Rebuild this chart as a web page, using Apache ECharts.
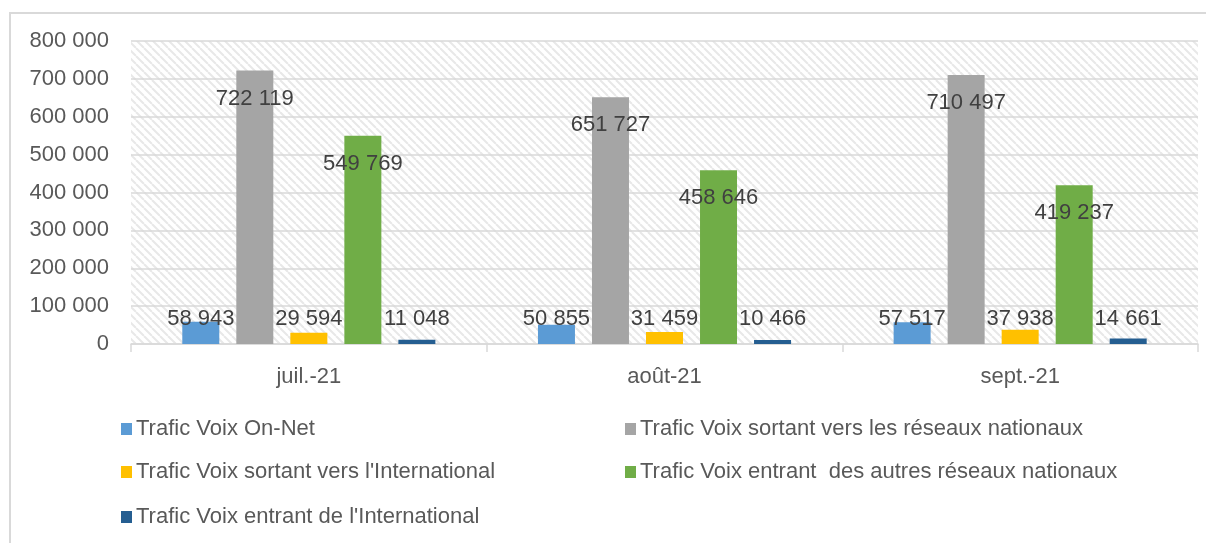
<!DOCTYPE html>
<html>
<head>
<meta charset="utf-8">
<script src="https://cdn.jsdelivr.net/npm/echarts@6/dist/echarts.min.js"></script>
<style>
    html, body { margin: 0; padding: 0; background: #fff; }
    #chart { width: 1206px; height: 543px; }
</style>
</head>
<body>
<div id="chart"></div>
<script>
// months on the x axis
const categories = ['juil.-21', 'août-21', 'sept.-21']

// series names (legend order)
const seriesNames = [
    'Trafic Voix On-Net',
    'Trafic Voix sortant vers les réseaux nationaux',
    "Trafic Voix sortant vers l'International",
    'Trafic Voix entrant  des autres réseaux nationaux',
    "Trafic Voix entrant de l'International"
]

// values per series, one per month
const onNet = [58943, 50855, 57517]
const sortantNational = [722119, 651727, 710497]
const sortantInternational = [29594, 31459, 37938]
const entrantNational = [549769, 458646, 419237]
const entrantInternational = [11048, 10466, 14661]

const yMax = 800000
const yStep = 100000

const colors = ['#5B9BD5', '#A5A5A5', '#FFC000', '#70AD47', '#255E91']
const allValues = [onNet, sortantNational, sortantInternational, entrantNational, entrantInternational]

function fmt(v) {
    return String(v).replace(/\B(?=(\d{3})+(?!\d))/g, ' ')
}

// diagonal hatch for the plot area
function hatch() {
    let s = 8
    let c = document.createElement('canvas')
    c.width = s
    c.height = s
    let ctx = c.getContext('2d')
    ctx.fillStyle = '#ffffff'
    ctx.fillRect(0, 0, s, s)
    ctx.strokeStyle = '#e8e8e8'
    ctx.lineWidth = 2
    for (let x0 = -s; x0 <= s; x0 += s) {
        ctx.beginPath()
        ctx.moveTo(x0, 0)
        ctx.lineTo(x0 + s, s)
        ctx.stroke()
    }
    return { image: c, repeat: 'repeat' }
}

// big bars carry their label inside the top, small ones just above the base
function withLabels(values) {
    return values.map(v => ({
        value: v,
        label: v > 100000
            ? { position: 'insideTop', distance: 17 }
            : { position: 'insideBottom', distance: 14 }
    }))
}

const legendSpots = [
    { left: 121, top: 418 },
    { left: 625, top: 418 },
    { left: 121, top: 461 },
    { left: 625, top: 461 },
    { left: 121, top: 506 }
]

let charts = echarts.init(document.getElementById('chart'))
charts.setOption({
    animation: false,
    textStyle: { fontFamily: 'Liberation Sans' },
    graphic: [{
        type: 'rect',
        shape: { x: 10, y: 13, width: 1220, height: 560 },
        style: { fill: null, stroke: '#d9d9d9', lineWidth: 2 },
        silent: true
    }],
    legend: legendSpots.map((p, i) => ({
        data: [seriesNames[i]],
        left: p.left,
        top: p.top,
        padding: 0,
        icon: 'rect',
        itemWidth: 11,
        itemHeight: 12,
        itemGap: 6,
        selectedMode: false,
        textStyle: { fontSize: 22, color: '#595959', padding: [0, 0, 0, -1] }
    })),
    grid: {
        left: 131,
        right: 8,
        top: 41,
        bottom: 199,
        show: true,
        borderWidth: 0,
        backgroundColor: hatch()
    },
    xAxis: {
        type: 'category',
        data: categories,
        axisLine: { lineStyle: { color: '#d9d9d9', width: 1.5 } },
        axisTick: { show: true, length: 8, lineStyle: { color: '#d9d9d9', width: 1.5 } },
        axisLabel: { fontSize: 22, color: '#595959', margin: 22 }
    },
    yAxis: {
        type: 'value',
        min: 0,
        max: yMax,
        interval: yStep,
        axisLine: { show: false },
        axisTick: { show: false },
        splitLine: { lineStyle: { color: '#d9d9d9', width: 1.5 } },
        axisLabel: { fontSize: 22, color: '#595959', margin: 22, formatter: fmt }
    },
    series: allValues.map((vals, i) => ({
        name: seriesNames[i],
        type: 'bar',
        barWidth: 37,
        barGap: '46%',
        itemStyle: { color: colors[i] },
        label: {
            show: true,
            fontSize: 22,
            color: '#404040',
            formatter: p => fmt(p.value)
        },
        data: withLabels(vals)
    }))
})
</script>
</body>
</html>
